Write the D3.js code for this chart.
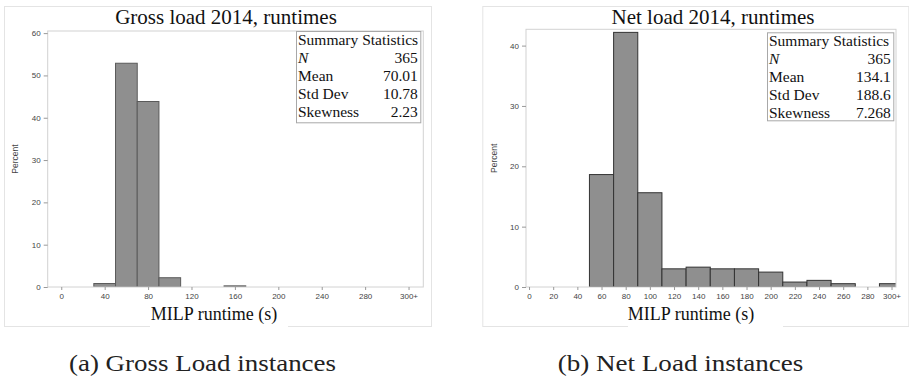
<!DOCTYPE html>
<html>
<head>
<meta charset="utf-8">
<script src="https://cdn.jsdelivr.net/npm/d3@7"></script>
<style>
  body { margin: 0; background: #fff; }
  .tick-label { font-family: "Liberation Sans", Arial, sans-serif; font-size: 8px; fill: #444; }
  .serif { font-family: "Liberation Serif", "Times New Roman", serif; fill: #111; }
</style>
</head>
<body>
<svg id="svg" width="909" height="381"></svg>
<script>
// Bin starts (s), bin width 20, and percent of instances per bin
const grossBinStart = [30, 50, 70, 90, 150];
const grossPct = [0.82, 52.88, 43.84, 2.19, 0.27];
const grossXTicks = [0, 40, 80, 120, 160, 200, 240, 280, 320];
const grossXLabels = ["0", "40", "80", "120", "160", "200", "240", "280", "300+"];
const grossYTicks = [0, 10, 20, 30, 40, 50, 60];
const grossStats = [["N", "365"], ["Mean", "70.01"], ["Std Dev", "10.78"], ["Skewness", "2.23"]];

const netBinStart = [50, 70, 90, 110, 130, 150, 170, 190, 210, 230, 250, 290];
const netPct = [18.63, 42.19, 15.62, 3.01, 3.29, 3.01, 3.01, 2.47, 0.82, 1.10, 0.55, 0.55];
const netXTicks = [0, 20, 40, 60, 80, 100, 120, 140, 160, 180, 200, 220, 240, 260, 280, 300];
const netXLabels = ["0", "20", "40", "60", "80", "100", "120", "140", "160", "180", "200", "220", "240", "260", "280", "300+"];
const netYTicks = [0, 10, 20, 30, 40];
const netStats = [["N", "365"], ["Mean", "134.1"], ["Std Dev", "188.6"], ["Skewness", "7.268"]];

const binWidth = 20;

const svg = d3.select("svg#svg");

// layout of the two panels (pixels)
const panels = [
  {
    id: "gross",
    title: "Gross load 2014, runtimes",
    caption: "(a) Gross Load instances",
    starts: grossBinStart, pct: grossPct,
    xTicks: grossXTicks, xLabels: grossXLabels, yTicks: grossYTicks, stats: grossStats,
    outer: { x: 4, y: 6, w: 427, h: 320 },
    plot: { x0: 47.7, x1: 423.3, y0: 31, y1: 287 },
    xDomain: [-12.5, 333.6], yMax: 60.5,
    titleX: 226,
    box: { x: 296, y: 31, w: 124.3, h: 91.3 },
    xlab: { cx: 214, bx0: 150, bx1: 288 },
    ylabX: 18, ylabY: 159,
    capX: 69, capW: 267,
    stroke: "#5a5a5a"
  },
  {
    id: "net",
    title: "Net load 2014, runtimes",
    caption: "(b) Net Load instances",
    starts: netBinStart, pct: netPct,
    xTicks: netXTicks, xLabels: netXLabels, yTicks: netYTicks, stats: netStats,
    outer: { x: 482.3, y: 6, w: 426, h: 320 },
    plot: { x0: 526, x1: 896, y0: 29.3, y1: 287 },
    xDomain: [-2.5, 303.7], yMax: 42.7,
    titleX: 713,
    box: { x: 767, y: 32.3, w: 126.3, h: 88 },
    xlab: { cx: 691, bx0: 628, bx1: 783 },
    ylabX: 496.5, ylabY: 158.3,
    capX: 557.7, capW: 245.7,
    stroke: "#333"
  }
];

panels.forEach(drawPanel);

function drawPanel(p) {
  const g = svg.append("g").attr("id", p.id);

  // outer graph border
  g.append("rect")
    .attr("x", p.outer.x + 0.5).attr("y", p.outer.y + 0.5)
    .attr("width", p.outer.w).attr("height", p.outer.h)
    .attr("fill", "#fff").attr("stroke", "#e4e4e4");

  const x = d3.scaleLinear().domain(p.xDomain).range([p.plot.x0, p.plot.x1]);
  const y = d3.scaleLinear().domain([0, p.yMax]).range([p.plot.y1, p.plot.y0]);

  // clip so the overflow bin stops at the frame
  g.append("clipPath").attr("id", "clip-" + p.id)
    .append("rect")
    .attr("x", p.plot.x0).attr("y", p.plot.y0)
    .attr("width", p.plot.x1 - p.plot.x0).attr("height", p.plot.y1 - p.plot.y0);

  const bins = p.starts.map((s, i) => ({ x0: s, x1: s + binWidth, v: p.pct[i] }));

  g.append("g").attr("clip-path", "url(#clip-" + p.id + ")")
    .selectAll("rect.bar")
    .data(bins)
    .enter()
    .append("rect")
    .attr("class", "bar")
    .attr("x", d => x(d.x0))
    .attr("y", d => y(d.v))
    .attr("width", d => x(d.x1) - x(d.x0))
    .attr("height", d => y(0) - y(d.v))
    .attr("fill", "#8f8f8f")
    .attr("stroke", p.stroke)
    .attr("stroke-width", 1);

  // plot frame
  g.append("rect")
    .attr("x", p.plot.x0).attr("y", p.plot.y0)
    .attr("width", p.plot.x1 - p.plot.x0).attr("height", p.plot.y1 - p.plot.y0)
    .attr("fill", "none").attr("stroke", "#d2d2d2");

  // x axis
  const xAxis = d3.axisBottom(x)
    .tickValues(p.xTicks)
    .tickSize(3)
    .tickPadding(3)
    .tickFormat((d, i) => p.xLabels[i]);
  const gx = g.append("g").attr("transform", "translate(0," + p.plot.y1 + ")").call(xAxis);
  gx.select(".domain").remove();
  gx.selectAll(".tick line").attr("stroke", "#999");
  gx.selectAll(".tick text").attr("class", "tick-label").attr("font-size", null).attr("font-family", null);

  // y axis
  const yAxis = d3.axisLeft(y).tickValues(p.yTicks).tickSize(4).tickPadding(3);
  const gy = g.append("g").attr("transform", "translate(" + p.plot.x0 + ",0)").call(yAxis);
  gy.select(".domain").remove();
  gy.selectAll(".tick line").attr("stroke", "#999");
  gy.selectAll(".tick text").attr("class", "tick-label").attr("font-size", null).attr("font-family", null);

  // title
  g.append("text")
    .attr("class", "serif")
    .attr("x", p.titleX).attr("y", 24)
    .attr("text-anchor", "middle")
    .style("font-size", "21px")
    .text(p.title);

  // y label
  g.append("text")
    .attr("class", "tick-label")
    .attr("transform", "translate(" + p.ylabX + "," + p.ylabY + ") rotate(-90)")
    .attr("text-anchor", "middle")
    .style("font-size", "8.5px")
    .text("Percent");

  // x label with white patch over the border
  g.append("rect")
    .attr("x", p.xlab.bx0).attr("y", 305)
    .attr("width", p.xlab.bx1 - p.xlab.bx0).attr("height", 25)
    .attr("fill", "#fff");
  g.append("text")
    .attr("class", "serif")
    .attr("x", p.xlab.cx).attr("y", 320)
    .attr("text-anchor", "middle")
    .style("font-size", "18px")
    .text("MILP runtime (s)");

  // summary statistics inset
  const box = g.append("g").attr("transform", "translate(" + p.box.x + "," + p.box.y + ")");
  box.append("rect")
    .attr("x", 0.5).attr("y", 0.5)
    .attr("width", p.box.w).attr("height", p.box.h)
    .attr("fill", "#fff").attr("stroke", "#a8a8a8");
  box.append("text")
    .attr("class", "serif")
    .attr("x", 2).attr("y", 13.8)
    .style("font-size", "15.5px")
    .text("Summary Statistics");
  p.stats.forEach(function(row, i) {
    let by = 13.8 + (i + 1) * 18.1;
    box.append("text")
      .attr("class", "serif")
      .attr("x", 2).attr("y", by)
      .style("font-size", "15.5px")
      .style("font-style", i === 0 ? "italic" : "normal")
      .text(row[0]);
    box.append("text")
      .attr("class", "serif")
      .attr("x", p.box.w - 2.5).attr("y", by)
      .attr("text-anchor", "end")
      .style("font-size", "15.5px")
      .text(row[1]);
  });

  // subfigure caption
  svg.append("text")
    .attr("class", "serif")
    .attr("x", p.capX).attr("y", 371)
    .attr("textLength", p.capW)
    .attr("lengthAdjust", "spacingAndGlyphs")
    .style("font-size", "22.5px")
    .style("fill", "#222")
    .text(p.caption);
}
</script>
</body>
</html>
